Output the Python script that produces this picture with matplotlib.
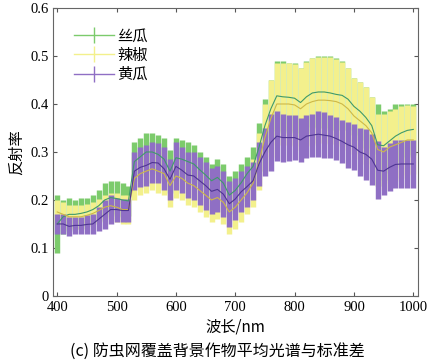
import numpy as np
import matplotlib.pyplot as plt
from matplotlib.lines import Line2D

plt.rcParams['font.family'] = 'serif'
plt.rcParams['font.serif'] = ['Liberation Serif', 'DejaVu Serif']
plt.rcParams['xtick.direction'] = 'in'
plt.rcParams['ytick.direction'] = 'in'

# wavelength (nm), 10 nm steps
wavelength = np.arange(400, 1001, 10)

# 丝瓜 (luffa)
luffa_mean = [0.150, 0.165, 0.170, 0.170, 0.172, 0.175, 0.180, 0.188, 0.200, 0.205,
              0.203, 0.200, 0.198, 0.280, 0.290, 0.300, 0.300, 0.295, 0.285, 0.260,
              0.288, 0.285, 0.280, 0.275, 0.263, 0.252, 0.240, 0.247, 0.235, 0.210,
              0.220, 0.236, 0.255, 0.270, 0.310, 0.355, 0.390, 0.417, 0.415, 0.414,
              0.412, 0.403, 0.415, 0.423, 0.425, 0.425, 0.423, 0.420, 0.418, 0.410,
              0.395, 0.385, 0.372, 0.355, 0.315, 0.313, 0.323, 0.333, 0.340, 0.345,
              0.347]
luffa_std = [0.060, 0.035, 0.035, 0.030, 0.033, 0.030, 0.030, 0.032, 0.035, 0.035,
             0.037, 0.035, 0.032, 0.040, 0.040, 0.040, 0.040, 0.040, 0.045, 0.045,
             0.042, 0.040, 0.040, 0.040, 0.037, 0.038, 0.035, 0.038, 0.040, 0.040,
             0.040, 0.039, 0.035, 0.040, 0.050, 0.055, 0.060, 0.073, 0.075, 0.071,
             0.073, 0.072, 0.075, 0.072, 0.075, 0.075, 0.077, 0.075, 0.072, 0.065,
             0.060, 0.060, 0.063, 0.060, 0.085, 0.072, 0.067, 0.067, 0.060, 0.055,
             0.053]

# 辣椒 (pepper)
pepper_mean = [0.175, 0.170, 0.165, 0.165, 0.165, 0.168, 0.172, 0.178, 0.185, 0.188,
               0.185, 0.180, 0.180, 0.245, 0.255, 0.260, 0.265, 0.260, 0.255, 0.230,
               0.250, 0.245, 0.235, 0.230, 0.220, 0.210, 0.200, 0.205, 0.195, 0.175,
               0.185, 0.200, 0.215, 0.235, 0.280, 0.330, 0.370, 0.400, 0.400, 0.400,
               0.398, 0.390, 0.400, 0.405, 0.408, 0.408, 0.407, 0.405, 0.400, 0.390,
               0.375, 0.365, 0.355, 0.340, 0.305, 0.300, 0.310, 0.315, 0.320, 0.325,
               0.325]
pepper_std = [0.025, 0.025, 0.025, 0.025, 0.025, 0.023, 0.023, 0.023, 0.025, 0.027,
              0.030, 0.030, 0.030, 0.045, 0.045, 0.045, 0.045, 0.045, 0.045, 0.045,
              0.045, 0.045, 0.045, 0.045, 0.045, 0.045, 0.045, 0.045, 0.045, 0.045,
              0.045, 0.045, 0.045, 0.050, 0.060, 0.070, 0.080, 0.085, 0.085, 0.085,
              0.085, 0.085, 0.088, 0.090, 0.090, 0.090, 0.090, 0.088, 0.088, 0.085,
              0.080, 0.080, 0.080, 0.075, 0.075, 0.080, 0.075, 0.075, 0.075, 0.072,
              0.070]

# 黄瓜 (cucumber)
cucumber_mean = [0.150, 0.150, 0.145, 0.147, 0.147, 0.149, 0.150, 0.160, 0.170, 0.180,
                 0.180, 0.178, 0.178, 0.260, 0.268, 0.272, 0.278, 0.277, 0.265, 0.243,
                 0.270, 0.262, 0.252, 0.250, 0.240, 0.230, 0.218, 0.222, 0.212, 0.192,
                 0.202, 0.217, 0.228, 0.240, 0.275, 0.300, 0.320, 0.333, 0.330, 0.330,
                 0.330, 0.325, 0.333, 0.335, 0.337, 0.335, 0.333, 0.328, 0.322, 0.315,
                 0.310, 0.300, 0.295, 0.285, 0.262, 0.260, 0.268, 0.274, 0.275, 0.275,
                 0.275]
cucumber_std = [0.020, 0.020, 0.020, 0.018, 0.018, 0.019, 0.020, 0.025, 0.030, 0.030,
                0.025, 0.023, 0.023, 0.040, 0.042, 0.042, 0.042, 0.042, 0.045, 0.043,
                0.050, 0.048, 0.048, 0.050, 0.050, 0.050, 0.048, 0.048, 0.048, 0.048,
                0.043, 0.043, 0.043, 0.040, 0.045, 0.050, 0.060, 0.052, 0.050, 0.048,
                0.047, 0.045, 0.045, 0.045, 0.048, 0.048, 0.045, 0.045, 0.045, 0.048,
                0.048, 0.050, 0.053, 0.053, 0.060, 0.050, 0.050, 0.050, 0.050, 0.050,
                0.050]

labels = ['丝瓜', '辣椒', '黄瓜']
bar_colors = ['#7ccb6c', '#f3f08c', '#8f6fc4']
line_colors = ['#3f9a6a', '#cdb848', '#4e3592']
cjk = ['Noto Sans CJK SC']

fig = plt.figure(figsize=(4.35, 3.64), dpi=100)
ax = fig.add_axes([0.122, 0.187, 0.839, 0.791])

series = [(luffa_mean, luffa_std), (pepper_mean, pepper_std), (cucumber_mean, cucumber_std)]
for i, (m, s) in enumerate(series):
    ax.errorbar(wavelength, m, yerr=s, fmt='none', ecolor=bar_colors[i],
                elinewidth=3.9, capsize=0, zorder=2 + i)
for i, (m, s) in enumerate(series):
    ax.plot(wavelength, m, color=line_colors[i], lw=0.8, zorder=6 + i)

handles = [Line2D([0], [0], color=c, lw=1, marker='|', markersize=12, markeredgewidth=1)
           for c in bar_colors]
ax.legend(handles, labels, loc='upper left', frameon=False,
          bbox_to_anchor=(0.02, 0.98), handlelength=2.6, handletextpad=0.2,
          labelspacing=0.15, prop={'family': cjk, 'size': 11})

ax.set_xlim(393, 1008)
ax.set_ylim(0, 0.6)
ax.set_xticks(range(400, 1001, 100))
ax.set_yticks([0, 0.1, 0.2, 0.3, 0.4, 0.5, 0.6])
ax.set_yticklabels(['0', '0.1', '0.2', '0.3', '0.4', '0.5', '0.6'])
ax.tick_params(top=True, right=True, labelsize=10.5, length=3, color='#555555')
ax.tick_params(axis='y', pad=3)
ax.tick_params(axis='x', pad=4)
for lab in ax.get_xticklabels() + ax.get_yticklabels():
    lab.set_fontfamily('Liberation Serif')
for sp in ax.spines.values():
    sp.set_color('#666666')
    sp.set_linewidth(0.8)

ax.set_xlabel('波长/nm', fontsize=11, labelpad=3, family=cjk)
ax.set_ylabel('反射率', fontsize=11, labelpad=4, family=cjk)
fig.text(0.5, 0.035, '(c) 防虫网覆盖背景作物平均光谱与标准差', ha='center', va='center',
         fontsize=11.5, family=cjk)

fig.savefig('out.png', dpi=100)
